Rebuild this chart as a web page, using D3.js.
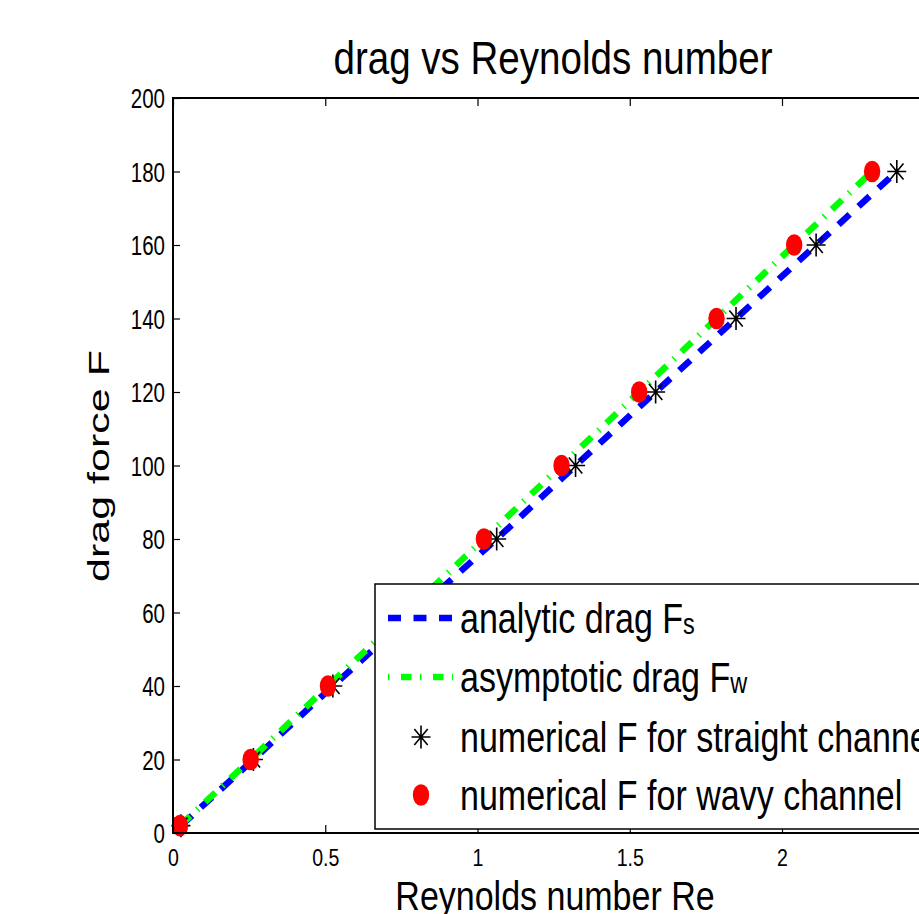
<!DOCTYPE html>
<html><head><meta charset="utf-8">
<script src="https://cdn.jsdelivr.net/npm/d3@7"></script>
<style>html,body{margin:0;padding:0;background:#fff;overflow:hidden}svg{display:block}</style>
</head><body>
<svg id="chart" width="919" height="914"></svg>
<script>
// ---- data ----
const forceValues = [2, 20, 40, 60, 80, 100, 120, 140, 160, 180];
const reStraight = [0.026, 0.264, 0.525, 0.793, 1.063, 1.322, 1.585, 1.849, 2.112, 2.377];
const reWavy = [0.023, 0.255, 0.509, 0.765, 1.021, 1.276, 1.531, 1.785, 2.040, 2.296];
const xTicks = [0, 0.5, 1, 1.5, 2, 2.5];
const xTickLabels = [0, 0.5, 1, 1.5, 2];
const yTicks = [0, 20, 40, 60, 80, 100, 120, 140, 160, 180, 200];
const titleText = "drag vs Reynolds number";
const xLabel = "Reynolds number Re";
const yLabel = "drag force F";
const legendMain = ["analytic drag F", "asymptotic drag F", "numerical F for straight channel", "numerical F for wavy channel"];
const legendSub = ["s", "w", "", ""];

// ---- setup ----
const FONT = "'Liberation Sans', Arial, Helvetica, sans-serif";
const svg = d3.select("#chart").style("background", "#fff");
svg.append("rect").attr("width", 919).attr("height", 914).attr("fill", "#fff");

const x = d3.scaleLinear().domain([0, 2.5]).range([173, 934.25]);
const y = d3.scaleLinear().domain([0, 200]).range([833, 98]);

function addText(parent, tx, ty, str, size, sx, anchor) {
  return parent.append("text")
    .attr("transform", `translate(${tx},${ty}) scale(${sx},1)`)
    .attr("font-family", FONT).attr("font-size", size)
    .attr("text-anchor", anchor).attr("fill", "#000").text(str);
}

// ---- data layers ----
const lineStraight = d3.line().x((d, i) => x(reStraight[i])).y(d => y(d));
const lineWavy = d3.line().x((d, i) => x(reWavy[i])).y(d => y(d));

const plot = svg.append("g");
plot.append("path").datum(forceValues).attr("d", lineStraight)
  .attr("fill", "none").attr("stroke", "#0000ff").attr("stroke-width", 6.5)
  .attr("stroke-dasharray", "15 12");
plot.append("path").datum(forceValues).attr("d", lineWavy)
  .attr("fill", "none").attr("stroke", "#00ff00").attr("stroke-width", 6.5)
  .attr("stroke-dasharray", "14 9.5 1.5 9.5");

function starPath(cx, cy) {
  const hx = 9.5, hy = 11.5, dx = 6.7, dy = 8.1;
  return `M${cx - hx},${cy}L${cx + hx},${cy}M${cx},${cy - hy}L${cx},${cy + hy}` +
         `M${cx - dx},${cy - dy}L${cx + dx},${cy + dy}M${cx - dx},${cy + dy}L${cx + dx},${cy - dy}`;
}
plot.selectAll("path.star").data(forceValues).enter().append("path").attr("class", "star")
  .attr("d", (d, i) => starPath(x(reStraight[i]), y(d)))
  .attr("stroke", "#000").attr("stroke-width", 1.6).attr("fill", "none");
plot.selectAll("ellipse.wavy").data(forceValues).enter().append("ellipse").attr("class", "wavy")
  .attr("cx", (d, i) => x(reWavy[i])).attr("cy", d => y(d))
  .attr("rx", 8.2).attr("ry", 10.8).attr("fill", "#ff0000");

// ---- axes ----
const axB = svg.append("g").attr("transform", "translate(0,833)")
  .call(d3.axisBottom(x).tickValues(xTicks).tickSizeInner(-8).tickSizeOuter(0)
    .tickFormat(d => xTickLabels.includes(d) ? String(d) : ""));
const axT = svg.append("g").attr("transform", "translate(0,98)")
  .call(d3.axisTop(x).tickValues(xTicks).tickSizeInner(-8).tickSizeOuter(0).tickFormat(""));
const axL = svg.append("g").attr("transform", "translate(173,0)")
  .call(d3.axisLeft(y).tickValues(yTicks).tickSizeInner(-7).tickSizeOuter(0));
const axR = svg.append("g").attr("transform", "translate(934.25,0)")
  .call(d3.axisRight(y).tickValues(yTicks).tickSizeInner(-7).tickSizeOuter(0).tickFormat(""));
[axB, axT, axL, axR].forEach(a => {
  a.select(".domain").remove();
  a.selectAll(".tick line").attr("stroke", "#000").attr("stroke-width", 1.2);
});
axB.selectAll(".tick text").attr("y", 0).attr("dy", 0)
  .attr("transform", "translate(0,33) scale(0.85,1)")
  .attr("font-family", FONT).attr("font-size", 23).attr("fill", "#000");
axB.selectAll(".tick text").filter(function () { return this.textContent === ""; }).remove();
axT.selectAll(".tick text").remove();
axR.selectAll(".tick text").remove();
axL.selectAll(".tick text").attr("x", 0).attr("dy", 0)
  .attr("transform", "translate(-8,9.5) scale(0.76,1)")
  .attr("font-family", FONT).attr("font-size", 27).attr("fill", "#000").attr("text-anchor", "end");

// frame
svg.append("rect").attr("x", x(0)).attr("y", y(200)).attr("width", x(2.5) - x(0)).attr("height", y(0) - y(200))
  .attr("fill", "none").attr("stroke", "#000").attr("stroke-width", 2);

// ---- legend ----
const leg = svg.append("g");
leg.append("rect").attr("x", 375).attr("y", 584).attr("width", 600).attr("height", 245)
  .attr("fill", "#fff").attr("stroke", "#000").attr("stroke-width", 1.5);
const rowY = [618, 677, 737, 795];
leg.append("line").attr("x1", 388).attr("x2", 453).attr("y1", rowY[0]).attr("y2", rowY[0])
  .attr("stroke", "#0000ff").attr("stroke-width", 6.5).attr("stroke-dasharray", "13 12.5");
leg.append("line").attr("x1", 388).attr("x2", 453).attr("y1", rowY[1]).attr("y2", rowY[1])
  .attr("stroke", "#00ff00").attr("stroke-width", 6.5).attr("stroke-dasharray", "1.5 11.5 10.5 8.5");
leg.append("path").attr("d", starPath(421, rowY[2])).attr("stroke", "#000").attr("stroke-width", 1.6);
leg.append("ellipse").attr("cx", 421).attr("cy", rowY[3]).attr("rx", 8.2).attr("ry", 10.8).attr("fill", "#ff0000");
legendMain.forEach((t, i) => {
  const tx = addText(leg, 460, rowY[i] + 15, "", 42, 0.81, "start");
  tx.append("tspan").text(t);
  if (legendSub[i]) tx.append("tspan").attr("font-size", 29).attr("dy", 1).text(legendSub[i]);
});

// ---- titles ----
addText(svg, 553, 74, titleText, 47, 0.82, "middle");
addText(svg, 555, 910, xLabel, 40, 0.85, "middle");
svg.append("text").attr("transform", "translate(109,466) scale(0.7,1) rotate(-90)")
  .attr("font-family", FONT).attr("font-size", 43).attr("text-anchor", "middle").attr("fill", "#000")
  .text(yLabel);
</script>
</body></html>
